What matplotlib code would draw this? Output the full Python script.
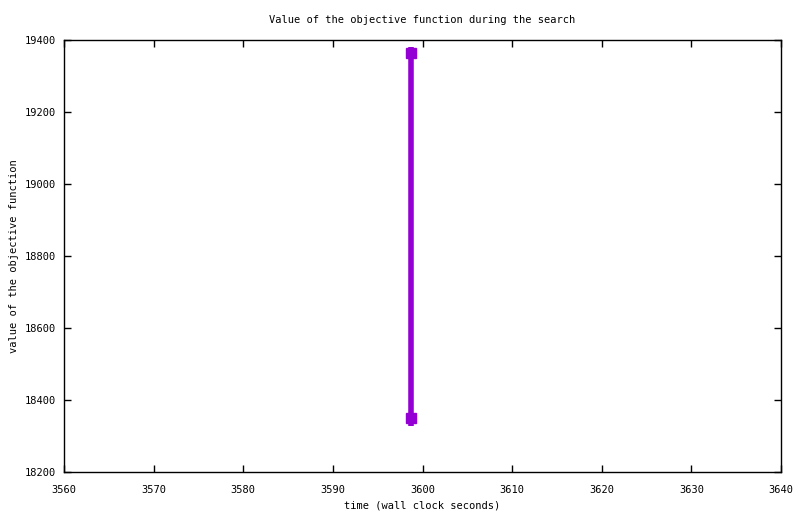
import matplotlib
matplotlib.use("Agg")
import matplotlib.pyplot as plt

times = [3598.7, 3598.7, 3598.7, 3598.7]
values = [19381, 19364, 18351, 18329]
marked = [1, 2]

xticks = [3560, 3570, 3580, 3590, 3600, 3610, 3620, 3630, 3640]
yticks = [18200, 18400, 18600, 18800, 19000, 19200, 19400]

plt.rcParams['font.family'] = ['DejaVu Sans Mono']
plt.rcParams['font.size'] = 7.5

fig = plt.figure(figsize=(8, 5.14), dpi=100)
ax = fig.add_axes([0.08, 0.0817, 0.89625, 0.8405])
ax.plot(times, values, color='#9400D3', linewidth=4, marker='s', markersize=7.5,
        markevery=marked, solid_capstyle='butt')
ax.set_xlim(3560, 3640)
ax.set_ylim(18200, 19400)
ax.set_xticks(xticks)
ax.set_yticks(yticks)
ax.tick_params(axis='x', direction='in', top=True, length=5, width=1, pad=9)
ax.tick_params(axis='y', direction='in', right=True, length=5, width=1, pad=6)
for s in ax.spines.values():
    s.set_linewidth(1)
ax.set_title('Value of the objective function during the search', fontsize=7.5, pad=12)
ax.set_xlabel('time (wall clock seconds)', labelpad=4)
ax.set_ylabel('value of the objective function', labelpad=4)
fig.savefig('out.png', dpi=100)
